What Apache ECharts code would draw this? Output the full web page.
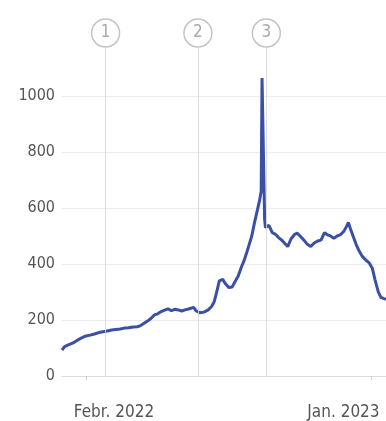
<!DOCTYPE html>
<html>
<head>
<meta charset="utf-8">
<script src="https://cdn.jsdelivr.net/npm/echarts@6/dist/echarts.min.js"></script>
<style>
html,body{margin:0;padding:0;background:#fff;}
#chart{width:386px;height:421px;}
</style>
</head>
<body>
<div id="chart"></div>
<script>
var dates = ['2022-01-04','2022-01-07','2022-01-12','2022-01-17','2022-01-22','2022-01-27','2022-02-01','2022-02-06','2022-02-11','2022-02-16','2022-02-21','2022-02-26','2022-03-03','2022-03-08','2022-03-13','2022-03-18','2022-03-23','2022-03-28','2022-04-02','2022-04-06','2022-04-10','2022-04-14','2022-04-18','2022-04-22','2022-04-26','2022-04-30','2022-05-04','2022-05-08','2022-05-12','2022-05-16','2022-05-20','2022-05-24','2022-05-28','2022-06-02','2022-06-07','2022-06-10','2022-06-14','2022-06-19','2022-06-24','2022-06-28','2022-07-01','2022-07-04','2022-07-07','2022-07-11','2022-07-14','2022-07-18','2022-07-22','2022-07-26','2022-07-29','2022-08-02','2022-08-05','2022-08-08','2022-08-11','2022-08-14','2022-08-17','2022-08-20','2022-08-23','2022-08-25','2022-08-26','2022-08-29','2022-08-30','2022-09-03','2022-09-07','2022-09-11','2022-09-14','2022-09-18','2022-09-22','2022-09-25','2022-09-29','2022-10-03','2022-10-06','2022-10-10','2022-10-14','2022-10-18','2022-10-22','2022-10-26','2022-10-30','2022-11-03','2022-11-07','2022-11-10','2022-11-14','2022-11-18','2022-11-22','2022-11-26','2022-11-30','2022-12-03','2022-12-05','2022-12-08','2022-12-11','2022-12-14','2022-12-17','2022-12-21','2022-12-25','2022-12-29','2023-01-02','2023-01-05','2023-01-09','2023-01-12','2023-01-15','2023-01-18'];
var values = [92,105,112,118,128,136,143,146,150,155,158,161,164,166,168,171,172,175,176,180,188,196,205,218,222,230,235,240,233,238,236,232,236,240,245,232,226,228,236,248,265,300,340,345,330,316,318,340,356,390,412,440,470,500,545,585,625,660,1064,560,530,538,512,505,495,485,472,462,490,505,510,498,485,470,462,475,482,485,512,505,500,492,500,505,518,535,548,520,495,470,450,428,415,405,385,345,300,281,277,274];
var eventDates = ['2022-02-24','2022-06-12','2022-08-31'];
var eventLabels = ['1','2','3'];
var xTickDates = ['2022-02-01','2023-01-01'];
var xTickLabels = ['Febr. 2022','Jan. 2023'];
var yTicks = [0,200,400,600,800,1000];

var FONT = '"DejaVu Sans Condensed","Liberation Sans Narrow","Roboto",sans-serif';
var STRETCH = 'normal condensed';
function ts(d){ var p = d.split('-'); return Date.UTC(+p[0], +p[1]-1, +p[2]); }
var chart = echarts.init(document.getElementById('chart'), null, {renderer:'canvas'});
var seriesData = dates.map(function(d,i){return [ts(d), values[i]];});
var tickTs = xTickDates.map(ts);

var option = {
  animation:false,
  backgroundColor:'#fff',
  grid:{left:62,right:0,top:48,bottom:44,containLabel:false},
  xAxis:{
    type:'value',
    min:ts(dates[0]), max:ts(dates[dates.length-1]),
    axisLine:{show:true,lineStyle:{color:'#dcdcdc',width:1}},
    axisTick:{show:true,customValues:tickTs,length:4,lineStyle:{color:'#cfcfcf'}},
    splitLine:{show:false},
    axisLabel:{
      show:true, customValues:tickTs, margin:28,
      fontFamily:FONT, fontSize:17, fontWeight:STRETCH, color:'#555',
      formatter:function(v){
        var i = tickTs.indexOf(v);
        if(i===0) return '{l|'+xTickLabels[0]+'}';
        if(i===1) return '{r|'+xTickLabels[1]+'}';
        return '';
      },
      rich:{
        l:{fontFamily:FONT,fontSize:17,fontWeight:STRETCH,color:'#555',padding:[0,0,0,56]},
        r:{fontFamily:FONT,fontSize:17,fontWeight:STRETCH,color:'#555',padding:[0,56,0,0]}
      }
    }
  },
  yAxis:{
    type:'value', min:0, max:1171, interval:200,
    axisLine:{show:false}, axisTick:{show:false},
    splitLine:{show:true,lineStyle:{color:['#ececec','#ececec','#ececec','#ececec','#ececec','#ececec','rgba(0,0,0,0)'],width:1}},
    axisLabel:{
      margin:7, fontFamily:FONT, fontSize:16, fontWeight:STRETCH, color:'#555',
      formatter:function(v){ return yTicks.indexOf(v)>=0 ? String(v) : ''; }
    }
  },
  series:[
    {
      type:'line', data:seriesData, showSymbol:false, clip:false,
      lineStyle:{color:'#3a4fa6',width:3}, z:2
    },
    {
      type:'line', data:[], z:5,
      markLine:{
        silent:true, symbol:['none','none'], animation:false,
        lineStyle:{color:'rgba(215,215,215,0.85)',type:'solid',width:1},
        label:{
          show:true, position:'end', distance:1,
          formatter:function(p){return '{c|'+p.name+'}';},
          rich:{c:{width:28,height:28,lineHeight:28,align:'center',verticalAlign:'middle',
            borderColor:'#c4c4c4',borderWidth:1.5,borderRadius:16,color:'#aaa',
            fontFamily:FONT,fontSize:17,fontWeight:STRETCH}}
        },
        emphasis:{disabled:true},
        data: eventDates.map(function(d,i){return {xAxis:ts(d), name:eventLabels[i]};})
      }
    }
  ]
};
chart.setOption(option);
</script>
</body>
</html>
